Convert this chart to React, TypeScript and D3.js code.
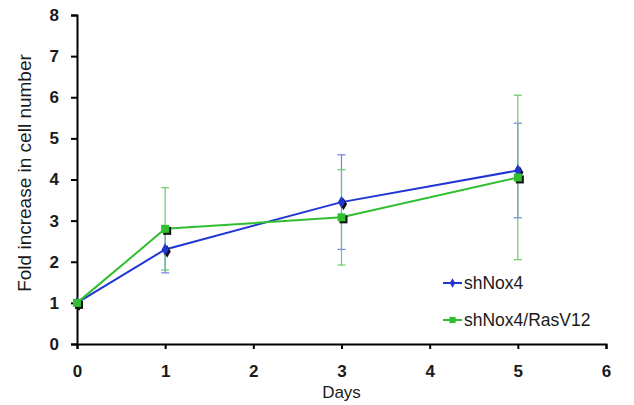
import React, { useEffect, useRef } from "react";
import * as d3 from "d3";

const days = [0, 1, 3, 5];
const shNox4 = [1.0, 2.3, 3.45, 4.22];
const shNox4Err = [0, 0.57, 1.15, 1.15];
const rasV12 = [1.0, 2.8, 3.08, 4.05];
const rasV12Err = [0, 1.0, 1.16, 2.0];
const xTicks = [0, 1, 2, 3, 4, 5, 6];
const yTicks = [0, 1, 2, 3, 4, 5, 6, 7, 8];

const FONT = "Arial, 'Liberation Sans'";

const App = () => {
  const svgRef = useRef(null);

  useEffect(() => {
    const svg = d3.select(svgRef.current);
    svg.selectAll("*").remove();
    const width = 634;
    const height = 405;

    const x = d3.scaleLinear().domain([0, 6]).range([77, 606]);
    const y = d3.scaleLinear().domain([0, 8]).range([344, 15]);

    const series = [
      { name: "shNox4", values: shNox4, err: shNox4Err, color: "#2036d2", errColor: "#6f80e6", shape: "diamond", legendY: 283 },
      { name: "shNox4/RasV12", values: rasV12, err: rasV12Err, color: "#2fbf2f", errColor: "#66cc66", shape: "square", legendY: 320 },
    ];

    // error bars
    series.forEach((s) => {
      const eg = svg.append("g");
      days.forEach((d, i) => {
        if (!s.err[i]) return;
        const cx = x(d);
        const top = y(s.values[i] + s.err[i]);
        const bot = y(s.values[i] - s.err[i]);
        eg.append("line").attr("x1", cx).attr("x2", cx).attr("y1", top).attr("y2", bot)
          .attr("stroke", s.errColor).attr("stroke-width", 1.2);
        [top, bot].forEach((yy) =>
          eg.append("line").attr("x1", cx - 4).attr("x2", cx + 4).attr("y1", yy).attr("y2", yy)
            .attr("stroke", s.errColor).attr("stroke-width", 1.2)
        );
      });
    });

    // axes
    const yAxis = svg.append("g").attr("transform", `translate(${x(0)},0)`)
      .call(d3.axisLeft(y).tickValues(yTicks).tickFormat(d3.format("d")).tickSize(6).tickPadding(12));
    const xAxis = svg.append("g").attr("transform", `translate(0,${y(0)})`)
      .call(d3.axisBottom(x).tickValues(xTicks).tickFormat(d3.format("d")).tickSize(5).tickPadding(16));
    [xAxis, yAxis].forEach((a) => {
      a.select(".domain").attr("stroke", "#000").attr("stroke-width", 2);
      a.selectAll(".tick line").attr("stroke", "#000").attr("stroke-width", 2);
      a.selectAll("text")
        .style("font-family", FONT)
        .style("font-size", "17px")
        .style("font-weight", "bold")
        .attr("fill", "#1a1a1a");
    });

    const line = d3.line().x((d) => x(d[0])).y((d) => y(d[1]));
    const diamond = d3.symbol().type(d3.symbolDiamond).size(45);
    const square = d3.symbol().type(d3.symbolSquare).size(64);

    series.forEach((s) => {
      const pts = days.map((d, i) => [d, s.values[i]]);
      svg.append("path").datum(pts).attr("fill", "none").attr("stroke", s.color)
        .attr("stroke-width", 2).attr("d", line);
      const sym = s.shape === "diamond" ? diamond : square;
      pts.forEach((p) => {
        svg.append("path").attr("d", sym()).attr("fill", "#111")
          .attr("transform", `translate(${x(p[0]) + 2},${y(p[1]) + 2})`);
        svg.append("path").attr("d", sym()).attr("fill", s.color)
          .attr("transform", `translate(${x(p[0])},${y(p[1])})`);
      });

      // legend
      svg.append("line").attr("x1", 443).attr("x2", 462).attr("y1", s.legendY).attr("y2", s.legendY)
        .attr("stroke", s.color).attr("stroke-width", 2);
      const small = s.shape === "diamond"
        ? d3.symbol().type(d3.symbolDiamond).size(25)
        : d3.symbol().type(d3.symbolSquare).size(40);
      svg.append("path").attr("d", small()).attr("fill", s.color)
        .attr("transform", `translate(452.5,${s.legendY})`);
      svg.append("text").attr("x", 464).attr("y", s.legendY).attr("dy", "0.35em")
        .style("font-family", FONT).style("font-size", "17.5px")
        .attr("fill", "#1a1a1a").text(s.name);
    });

    svg.append("text").attr("transform", `translate(24,173) rotate(-90)`)
      .attr("text-anchor", "middle").attr("dy", "0.35em")
      .style("font-family", FONT).style("font-size", "19px")
      .attr("fill", "#1a1a1a").text("Fold increase in cell number");

    svg.append("text").attr("x", x(3)).attr("y", 398).attr("text-anchor", "middle")
      .style("font-family", FONT).style("font-size", "17px")
      .attr("fill", "#1a1a1a").text("Days");

    svg.attr("width", width).attr("height", height);
  }, []);

  return (
    <div style={{ position: "absolute", left: 0, top: 0, background: "#fff" }}>
      <svg ref={svgRef} width={634} height={405}></svg>
    </div>
  );
};

export default App;
